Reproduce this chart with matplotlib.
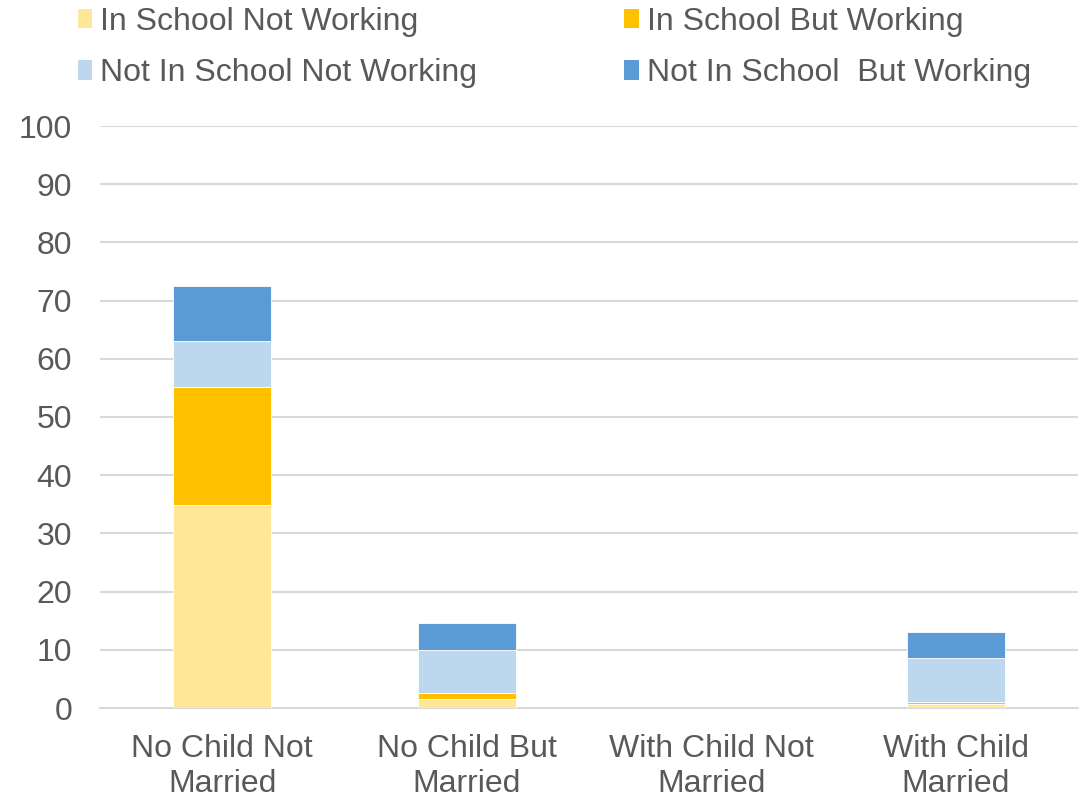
import matplotlib.pyplot as plt
import numpy as np
from matplotlib.patches import Patch

plt.rcParams['font.family'] = ['Liberation Sans', 'DejaVu Sans']

# Data
categories = ["No Child Not\nMarried", "No Child But\nMarried", "With Child Not\nMarried", "With Child\nMarried"]
series_names = ["In School Not Working", "In School But Working",
                "Not In School Not Working", "Not In School  But Working"]
in_school_not_working = [34.9, 1.5, 0, 0.7]
in_school_but_working = [20.3, 1.05, 0, 0.3]
not_school_not_working = [7.9, 7.4, 0, 7.55]
not_school_but_working = [9.4, 4.6, 0, 4.5]
colors = ["#FFE699", "#FFC000", "#BDD7EE", "#5B9BD5"]

series = [in_school_not_working, in_school_but_working,
          not_school_not_working, not_school_but_working]

fig = plt.figure(figsize=(10.89, 7.96), dpi=100)
ax = fig.add_axes([100 / 1089, 88 / 796, 978 / 1089, 582 / 796])

x = np.arange(len(categories))
bottom = np.zeros(len(categories))
for vals, col in zip(series, colors):
    ax.bar(x, vals, width=0.4, bottom=bottom, color=col, edgecolor="white",
           linewidth=0.6, zorder=3)
    bottom += np.array(vals)

ax.set_ylim(0, 100)
ax.set_xlim(-0.5, len(categories) - 0.5)
ax.set_yticks(range(0, 101, 10))
ax.set_xticks(x)
ax.set_xticklabels(categories, linespacing=1.23)
ax.grid(axis="y", color="#d9d9d9", linewidth=1.5, zorder=0)
for s in ["top", "right", "left"]:
    ax.spines[s].set_visible(False)
ax.spines["bottom"].set_color("#d9d9d9")
ax.spines["bottom"].set_linewidth(1.5)
ax.tick_params(axis="both", length=0, labelsize=23, labelcolor="#595959")
ax.tick_params(axis="y", pad=20)
ax.tick_params(axis="x", pad=18.5)

# legend fills column-wise, so reorder to get row order as in the chart
order = [0, 2, 1, 3]
handles = [Patch(facecolor=colors[i], edgecolor="none") for i in order]
labels = [series_names[i] for i in order]
fig.legend(handles, labels, loc="upper left", ncol=2,
           bbox_to_anchor=(78 / 1089, 1 - 7 / 796), frameon=False,
           fontsize=23, labelcolor="#595959", handlelength=0.45, handleheight=0.55,
           handletextpad=0.25, columnspacing=4.6, labelspacing=0.67,
           borderpad=0, borderaxespad=0)

fig.savefig("out.png", dpi=100)
